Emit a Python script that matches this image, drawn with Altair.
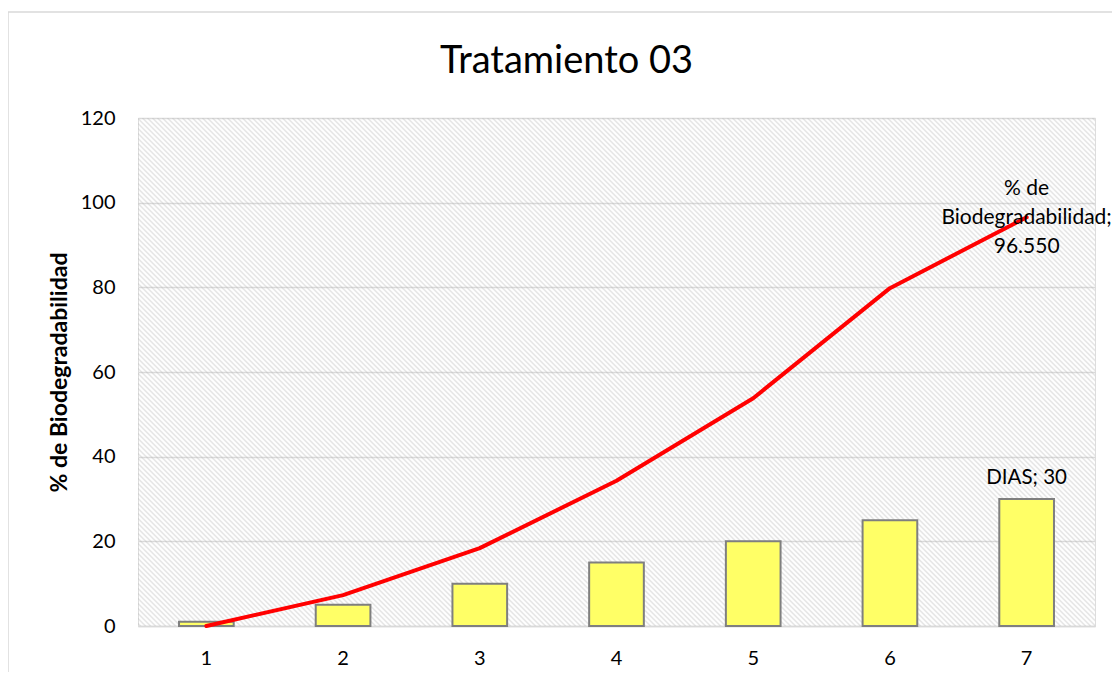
import math
import altair as alt
import pandas as pd

# ---- data ----
days = [1, 2, 3, 4, 5, 6, 7]
dias = [1, 5, 10, 15, 20, 25, 30]
biodeg = [0.0, 7.3, 18.4, 34.3, 53.8, 79.8, 96.55]

title_text = "Tratamiento 03"
y_title = "% de Biodegradabilidad"
y_ticks = [0, 20, 40, 60, 80, 100, 120]

W, H = 957, 508
FONT = "Lato"

df = pd.DataFrame({"day": days, "dias": dias, "bio": biodeg})
last = df.iloc[[-1]].copy()
last["bio_label"] = last["bio"].map(lambda v: f"% de\nBiodegradabilidad;\n{v:.3f}")
last["dias_label"] = last["dias"].map(lambda v: f"DIAS; {v}")

# ---- hatch background as a striped linear gradient (style only) ----
k = (W + H) / (W * W + H * H)
step_t = 5.0 / (W + H)
stops = []
n = int(1 / step_t)
for i in range(n + 1):
    o = i * step_t
    if o <= 1:
        stops.append({"offset": round(o, 6), "color": "rgba(255,255,255,0)"})
    o2 = (i + 0.5) * step_t
    if o2 <= 1:
        stops.append({"offset": round(o2, 6), "color": "rgba(170,170,170,0.42)"})
hatch = {
    "gradient": "linear",
    "x1": 0, "y1": 1,
    "x2": W * k, "y2": 1 - H * k,
    "stops": stops,
}

x_enc = alt.X(
    "day:O",
    scale=alt.Scale(paddingInner=0.6, paddingOuter=0.3),
    axis=alt.Axis(
        title=None, labelAngle=0, ticks=False, tickSize=0, grid=False,
        domainColor="#d9d9d9", domainWidth=1.5,
        labelFont=FONT, labelFontSize=20, labelColor="black", labelPadding=22,
    ),
)
y_scale = alt.Scale(domain=[0, 120], nice=False)
y_axis = alt.Axis(
    values=y_ticks, title=y_title, grid=True, gridColor="#d9d9d9", gridWidth=1.5,
    domain=False, ticks=False, tickSize=0,
    labelFont=FONT, labelFontSize=20, labelColor="black", labelPadding=23,
    titleFont=FONT, titleFontSize=23, titleFontWeight="bold", titleColor="black",
    titlePadding=9,
)

bg_df = pd.DataFrame({"bg": [0]})
background = alt.Chart(bg_df).mark_rect(fill=hatch).encode(
    x=alt.value(0), x2=alt.value(W), y=alt.value(0), y2=alt.value(H)
)
frame = alt.Chart(bg_df).mark_rect(
    fill="transparent", stroke="#d9d9d9", strokeWidth=1.5
).encode(
    x=alt.value(-130), x2=alt.value(1010), y=alt.value(-106), y2=alt.value(600)
)

bars = alt.Chart(df).mark_bar(
    color="#ffff66", stroke="#7f7f7f", strokeWidth=2
).encode(
    x=x_enc,
    y=alt.Y("dias:Q", scale=y_scale, axis=y_axis),
)

line = alt.Chart(df).mark_line(
    color="#ff0000", strokeWidth=4, strokeJoin="round", strokeCap="round"
).encode(
    x=x_enc,
    y=alt.Y("bio:Q", scale=y_scale),
)

bio_text = alt.Chart(last).mark_text(
    font=FONT, fontSize=21, color="black", align="center", baseline="middle",
    lineBreak="\n", lineHeight=29, dy=-28,
).encode(
    x=x_enc, y=alt.Y("bio:Q", scale=y_scale), text="bio_label:N"
)

dias_text = alt.Chart(last).mark_text(
    font=FONT, fontSize=20.5, color="black", align="center", baseline="bottom", dy=-11,
).encode(
    x=x_enc, y=alt.Y("dias:Q", scale=y_scale), text="dias_label:N"
)

chart = alt.layer(background, frame, bars, line, bio_text, dias_text).properties(
    width=W,
    height=H,
    title=alt.TitleParams(
        text=title_text, font=FONT, fontSize=38, fontWeight="normal", color="black",
        anchor="middle", frame="group", dx=-50, offset=0, dy=100, baseline="alphabetic",
    ),
    autosize=alt.AutoSizeParams(type="none"),
    padding={"left": 130, "top": 110, "right": 17, "bottom": 46},
).configure_view(stroke=None).configure(background="white")

chart.save("out.html", embed_options={"renderer": "svg", "actions": False})
